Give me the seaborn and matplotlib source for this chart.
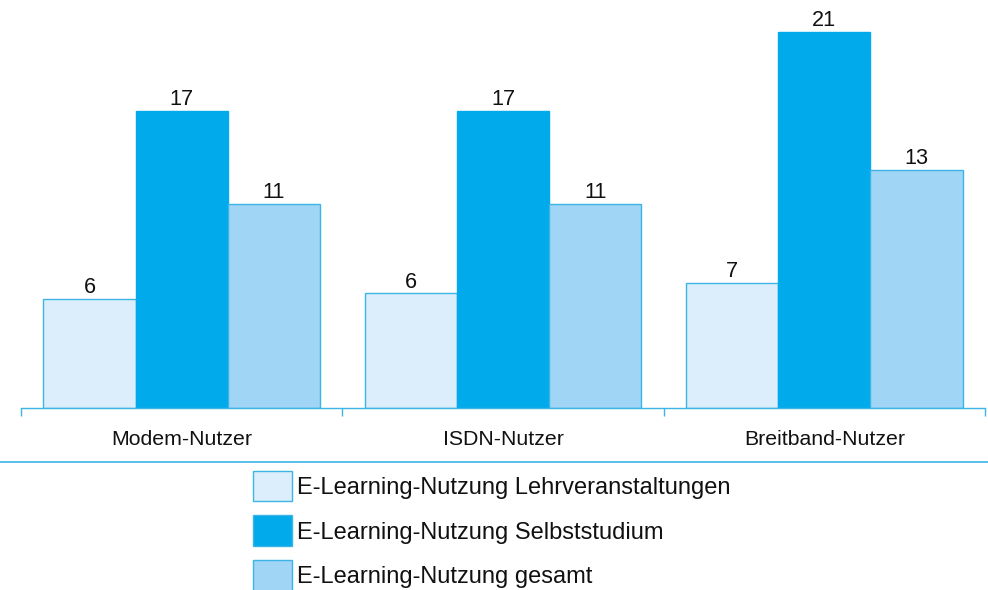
import matplotlib
matplotlib.use("Agg")
import matplotlib.pyplot as plt
from matplotlib.lines import Line2D
import pandas as pd
import seaborn as sns

# Nutzergruppen und Anteile (in %)
groups = ["Modem-Nutzer", "ISDN-Nutzer", "Breitband-Nutzer"]
series_names = [
    "E-Learning-Nutzung Lehrveranstaltungen",
    "E-Learning-Nutzung Selbststudium",
    "E-Learning-Nutzung gesamt",
]
lehrveranstaltungen = [6.1, 6.4, 7.0]
selbststudium = [16.6, 16.6, 21.0]
gesamt = [11.4, 11.4, 13.3]

colors = ["#DCEEFB", "#00AAEB", "#A0D5F5"]
edge = "#3CB4E6"

rows = []
for name, vals in zip(series_names, [lehrveranstaltungen, selbststudium, gesamt]):
    for g, v in zip(groups, vals):
        rows.append({"Gruppe": g, "Art": name, "Wert": v})
df = pd.DataFrame(rows)

sns.set_theme(style="white")
plt.rcParams["font.family"] = ["Liberation Sans", "DejaVu Sans"]
plt.rcParams["font.size"] = 15

fig = plt.figure(figsize=(9.88, 5.90), dpi=100)
ax = fig.add_axes([21 / 988, (590 - 408) / 590, 964 / 988, 394 / 590])

sns.barplot(
    data=df, x="Gruppe", y="Wert", hue="Art",
    order=groups, hue_order=series_names, palette=colors,
    width=0.86, edgecolor=edge, linewidth=1.0, saturation=1,
    ax=ax,
)

# dark bars: edge in the fill colour
for cont, col in zip(ax.containers, colors):
    if col == "#00AAEB":
        for p in cont:
            p.set_edgecolor(col)
    ax.bar_label(cont, fmt="{:.0f}", padding=0.6, fontsize=15.6, color="#111111")

handles, labels = ax.get_legend_handles_labels()
if ax.get_legend() is not None:
    ax.get_legend().remove()

ax.set_xlim(-0.5, 2.5)
ax.set_ylim(0, 22)
ax.set_xlabel("")
ax.set_ylabel("")
ax.set_yticks([])
for s in ["top", "right", "left"]:
    ax.spines[s].set_visible(False)
ax.spines["bottom"].set_color(edge)
ax.spines["bottom"].set_linewidth(1.0)

# boundary ticks between groups, labels centred below each group
ax.set_xticks([-0.5, 0.5, 1.5, 2.5])
ax.set_xticklabels([])
ax.tick_params(axis="x", which="major", length=6, width=1, color=edge, direction="out", bottom=True)
ax.set_xticks([0, 1, 2], minor=True)
ax.set_xticklabels(groups, minor=True, fontsize=15.3, color="#111111")
ax.tick_params(axis="x", which="minor", length=0, pad=16)

# separator line above the legend
fig.add_artist(Line2D([0, 1], [1 - 461.5 / 590] * 2, transform=fig.transFigure,
                      color=edge, linewidth=1.2))

leg = fig.legend(
    handles, labels, loc="upper left",
    bbox_to_anchor=(252.5 / 988, 1 - 470.5 / 590),
    frameon=False, fontsize=17, borderpad=0, borderaxespad=0,
    handlelength=1.66, handleheight=1.64, handletextpad=0.24,
    labelspacing=0.59,
)
for t in leg.get_texts():
    t.set_color("#111111")

fig.savefig("out.png", dpi=100)
